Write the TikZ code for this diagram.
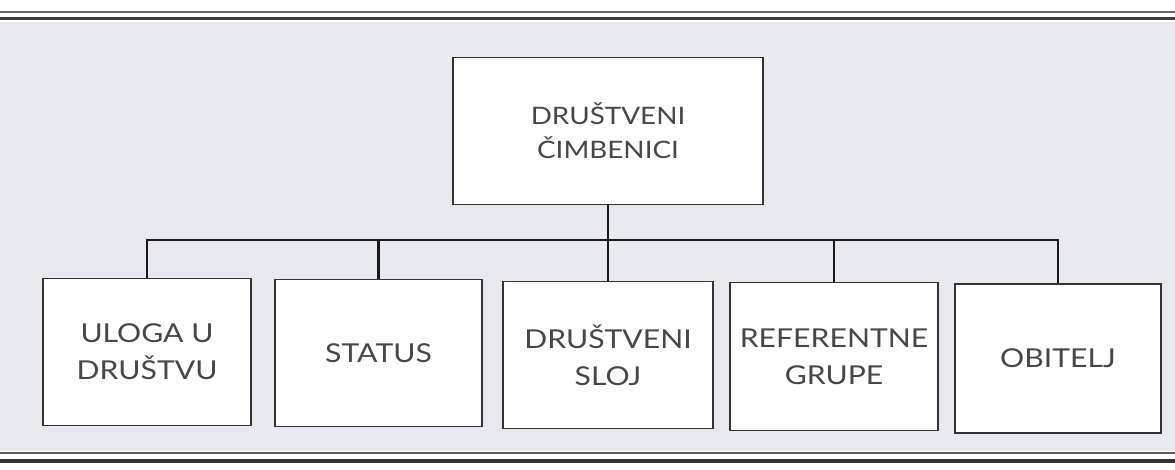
\documentclass[tikz,border=0pt]{standalone}
\usepackage{fontspec}
\setmainfont{Lato}[FakeStretch=1.16]
\begin{document}
\begin{tikzpicture}[x=1pt,y=-1pt,
  box/.style={draw=black!80, line width=1.2pt, fill=white, inner sep=0pt,
    align=center, font=\fontsize{26}{37}\selectfont, text=black!72},
  topbox/.style={box, font=\fontsize{24}{34}\selectfont},
  conn/.style={draw=black!90, line width=2.8pt}]
\definecolor{bg}{RGB}{232,233,238}
\fill[white] (0,0) rectangle (1175,470);
\fill[bg] (0,22) rectangle (1175,451);
\useasboundingbox (0,0) rectangle (1175,470);
% rules
\draw[black!60, line width=1.3pt] (0,12) -- (1175,12);
\draw[black!75, line width=3pt] (0,19) -- (1175,19);
\draw[black!65, line width=1.5pt] (0,453) -- (1175,453);
\draw[black!80, line width=3.5pt] (0,461) -- (1175,461);
% nodes
\node[topbox, minimum width=310, minimum height=147] (top) at (608,131) {DRUŠTVENI\\ČIMBENICI};
\node[box, minimum width=208, minimum height=147] (b1) at (147,352) {ULOGA U\\DRUŠTVU};
\node[box, minimum width=207, minimum height=147] (b2) at (378.5,353) {STATUS};
\node[box, minimum width=210, minimum height=147] (b3) at (608,355) {DRUŠTVENI\\SLOJ};
\node[box, minimum width=208, minimum height=148] (b4) at (834,356.5) {REFERENTNE\\GRUPE};
\node[box, minimum width=206, minimum height=149] (b5) at (1058,358.5) {OBITELJ};
% connectors
\coordinate (bus) at (608,240);
\draw[conn] (top.south) -- (bus);
\draw[conn] (b1.north) |- (bus) -| (b5.north);
\draw[conn] (b2.north) -- (b2.north |- bus);
\draw[conn] (b3.north) -- (bus);
\draw[conn] (b4.north) -- (b4.north |- bus);
\end{tikzpicture}
\end{document}
